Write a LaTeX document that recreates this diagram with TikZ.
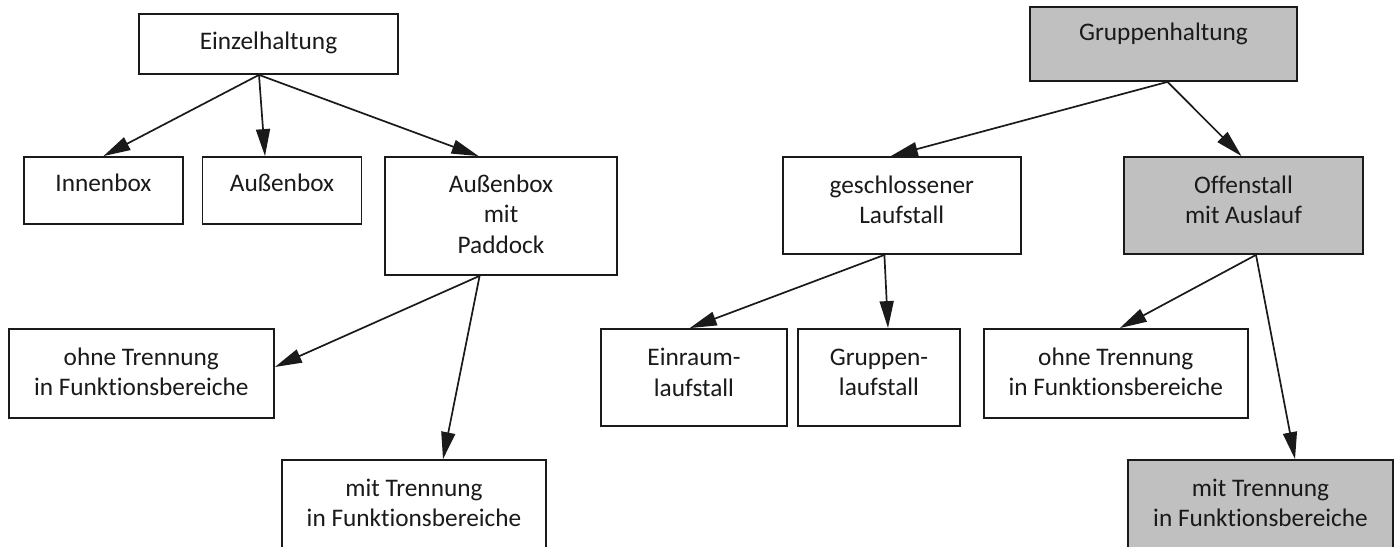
\documentclass[tikz,border=0pt]{standalone}
\usepackage{fontspec}
\setmainfont{Carlito}[Ligatures=NoCommon]
\usetikzlibrary{arrows.meta}
\definecolor{boxgray}{HTML}{C0C0C0}
\definecolor{ink}{HTML}{1A1A1A}
\begin{document}
\begin{tikzpicture}[x=1pt,y=-1pt,
  box/.style={draw=ink, line width=1.8pt, rectangle, inner sep=0pt, fill=white},
  grey/.style={fill=boxgray},
  lbl/.style={font=\fontsize{25.3}{30.5}\selectfont, align=center, text=ink, inner sep=0pt},
  arr/.style={-{Triangle[length=27pt,width=14pt]}, line width=1.7pt, draw=ink, fill=ink}]
\useasboundingbox (0,0) rectangle (1399,546);
\clip (0,0) rectangle (1399,546);
% left tree
\node[box, minimum width=259pt, minimum height=60pt, label={[lbl,yshift=1.5pt]center:Einzelhaltung}] (ein) at (268.5,44) {};
\node[box, minimum width=159.6pt, minimum height=67pt, label={[lbl,yshift=7.5pt]center:Innenbox}] (inn) at (103.4,190.5) {};
\node[box, minimum width=159pt, minimum height=67pt, label={[lbl,yshift=7.5pt]center:Außenbox}] (aus) at (282,190.5) {};
\node[box, minimum width=232pt, minimum height=118pt, label={[lbl,yshift=2pt]center:{Außenbox\\mit\\Paddock}}] (amp) at (501,216) {};
\node[box, minimum width=265.4pt, minimum height=89pt, label={[lbl,yshift=1.5pt]center:{ohne Trennung\\in Funktionsbereiche}}] (ohneL) at (141.3,373.5) {};
\node[box, minimum width=264pt, minimum height=90pt, label={[lbl,yshift=2pt]center:{mit Trennung\\in Funktionsbereiche}}] (mitL) at (414,505) {};
% right tree
\node[box, grey, minimum width=267pt, minimum height=74pt, label={[lbl,yshift=10pt]center:Gruppenhaltung}] (grp) at (1163.5,44) {};
\node[box, minimum width=238.4pt, minimum height=97pt, label={[lbl,yshift=5.5pt]center:{geschlossener\\Laufstall}}] (ges) at (901.8,205.5) {};
\node[box, grey, minimum width=239pt, minimum height=97pt, label={[lbl,yshift=5.5pt]center:{Offenstall\\mit Auslauf}}] (off) at (1243.5,205.5) {};
\node[box, minimum width=186pt, minimum height=97pt, label={[lbl,yshift=5pt]center:{Einraum-\\laufstall}}] (einr) at (694,377.5) {};
\node[box, minimum width=162pt, minimum height=97pt, label={[lbl,yshift=5pt]center:{Gruppen-\\laufstall}}] (grl) at (879,377.5) {};
\node[box, minimum width=264.4pt, minimum height=89pt, label={[lbl,yshift=1.5pt]center:{ohne Trennung\\in Funktionsbereiche}}] (ohneR) at (1115.8,373.5) {};
\node[box, grey, minimum width=265pt, minimum height=90pt, label={[lbl,yshift=2pt]center:{mit Trennung\\in Funktionsbereiche}}] (mitR) at (1260.5,505) {};
% arrows
\draw[arr] ([xshift=-9.5pt]ein.south) -- (inn.north);
\draw[arr] ([xshift=-9.5pt]ein.south) -- ([xshift=-17pt]aus.north);
\draw[arr] ([xshift=-9.5pt]ein.south) -- ([xshift=-22.4pt]amp.north);
\draw[arr] ([xshift=-21.4pt]amp.south) -- ([yshift=6.5pt]ohneL.east);
\draw[arr] ([xshift=-21.4pt]amp.south) -- ([xshift=29pt]mitL.north);
\draw[arr] ([xshift=4pt]grp.south) -- ([xshift=-11pt]ges.north);
\draw[arr] ([xshift=4pt]grp.south) -- ([xshift=-2pt]off.north);
\draw[arr] ([xshift=-17.4pt]ges.south) -- ([xshift=-4.3pt]einr.north);
\draw[arr] ([xshift=-17.4pt]ges.south) -- ([xshift=9pt]grl.north);
\draw[arr] ([xshift=12.5pt]off.south) -- ([xshift=4pt]ohneR.north);
\draw[arr] ([xshift=12.5pt]off.south) -- ([xshift=34.5pt]mitR.north);
\end{tikzpicture}
\end{document}
